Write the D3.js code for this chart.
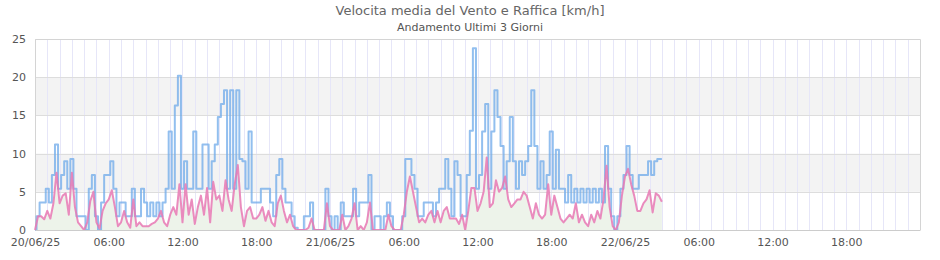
<!DOCTYPE html>
<html><head><meta charset="utf-8">
<script src="https://cdn.jsdelivr.net/npm/d3@7/dist/d3.min.js"></script>
<style>
html,body{margin:0;padding:0;background:#fff;}
svg{display:block;font-family:"DejaVu Sans",sans-serif;}
</style></head>
<body><svg id="c" width="940" height="260"></svg>
<script>
const chartTitle = "Velocita media del Vento e Raffica [km/h]";
const chartSubtitle = "Andamento Ultimi 3 Giorni";
const startTime = new Date(2025, 5, 20, 0, 0);
const endTime = new Date(2025, 5, 23, 0, 0);
const stepMinutes = 15;
// Raffica (gust), km/h, every 15 minutes from 20/06/25 00:00
const gust = [
0,1.8,3.6,3.6, 5.4,3.6,7.2,11.2, 5.4,7.2,9.0,5.4, 9.3,5.4,1.8,1.8,
1.8,0,5.4,7.2, 1.8,0,3.6,7.2, 7.2,9.0,5.4,1.8, 3.6,3.6,1.8,1.8,
5.4,1.8,1.8,5.4, 3.6,1.8,3.6,1.8, 3.6,1.8,3.6,5.4, 12.9,5.4,16.3,20.2,
5.4,9.0,5.4,5.4, 12.9,5.4,5.4,11.2, 11.2,5.4,9.0,11.2, 14.8,16.5,18.3,5.4,
18.3,5.4,18.3,9.3, 9.0,5.4,12.9,3.6, 3.6,3.6,5.4,5.4, 5.4,3.6,1.8,7.2,
9.3,5.4,3.6,3.6, 1.8,0.3,0,0, 1.8,1.8,3.6,0, 0,0,0,5.4,
1.8,0,1.8,0, 3.6,1.8,1.8,1.8, 5.4,1.8,3.6,3.6, 3.6,7.2,0,1.8,
1.8,0,1.8,3.6, 1.8,0,0,0, 1.8,9.3,9.3,7.2, 5.4,1.8,1.8,3.6,
3.6,3.6,1.8,3.6, 5.4,5.4,9.3,5.4, 1.8,9.0,7.2,1.8, 1.8,7.2,13.0,23.8,
5.4,7.2,12.9,16.5, 5.4,12.9,18.3,14.8, 11.0,5.4,9.0,14.8, 9.0,5.4,9.0,7.2,
9.0,11.0,18.3,11.0, 5.4,9.0,5.4,7.2, 12.9,5.4,10.5,5.4, 5.4,3.6,7.2,3.6,
5.4,3.6,5.4,3.6, 5.4,3.6,5.4,3.6, 5.4,3.6,11.0,5.4, 1.8,0,1.8,5.4,
7.2,11.0,7.2,5.4, 5.4,7.2,7.2,7.2, 9.0,7.2,9.0,9.3, 9.3
];
// Velocita media (mean wind), km/h
const mean = [
0,1.8,1.8,1.4, 2.5,1.5,3.5,7.5, 3.5,4.5,4.8,2.0, 7.5,3.0,1.0,0.5,
0,1.0,3.8,5.0, 1.0,0.2,2.5,3.5, 4.0,5.2,3.0,0.5, 1.0,2.5,1.0,0.3,
4.0,0.5,1.0,0.5, 0.5,0.5,0.8,1.0, 1.5,2.5,1.0,0.5, 2.0,3.0,2.0,6.0,
1.0,6.0,2.0,4.0, 0.8,3.0,4.5,2.0, 5.5,1.0,6.3,4.0, 4.5,2.5,6.5,4.0,
2.5,6.0,8.5,3.0, 0.5,2.5,3.0,1.5, 1.5,2.0,3.0,1.2, 2.5,1.0,0.5,3.5,
4.5,2.5,1.0,2.0, 0.5,0,0,0, 0,0.3,1.5,0, 0,0,0,3.5,
0.5,0,0,0, 2.0,0,0.5,1.5, 3.5,0,0.5,0, 1.0,3.6,0,0,
0,0,0,2.0, 0.5,0,0,0, 2.0,5.0,7.0,5.0, 3.0,1.0,1.5,1.0,
2.0,2.5,1.0,2.5, 1.0,2.5,3.0,1.5, 1.5,1.5,0.8,2.0, 0,2.5,5.5,5.5,
2.5,3.5,5.0,9.5, 3.0,3.5,6.5,5.0, 5.5,7.0,4.0,3.0, 3.5,4.0,4.0,5.0,
4.5,3.0,1.5,3.5, 2.0,1.5,2.0,6.0, 2.0,4.5,3.0,1.5, 1.0,1.5,2.0,1.5,
3.5,1.0,2.0,1.0, 0.5,2.0,1.0,2.5, 1.5,4.0,8.4,3.0, 0.5,0,1.0,4.5,
7.0,8.0,6.0,4.5, 2.5,2.5,3.5,4.0, 5.2,2.3,4.8,4.5, 3.7
];
const yTicks = [0, 5, 10, 15, 20, 25];
const bandRanges = [[5, 10], [15, 20]];
const xTickHours = [0, 6, 12, 18, 24, 30, 36, 42, 48, 54, 60, 66];
const xTickLabels = ["20/06/25","06:00","12:00","18:00","21/06/25","06:00","12:00","18:00","22/06/25","06:00","12:00","18:00"];

const svg = d3.select("#c");
const L = 35, R = 920, T = 39, B = 230;
const x = d3.scaleTime().domain([startTime, endTime]).range([L, R]);
const y = d3.scaleLinear().domain([0, 25]).range([B, T]);
const tAt = i => new Date(startTime.getTime() + i * stepMinutes * 60000);
const hAt = h => new Date(startTime.getTime() + h * 3600000);

// bands
svg.append("g").selectAll("rect").data(bandRanges).join("rect")
  .attr("x", L).attr("width", R - L)
  .attr("y", d => y(d[1])).attr("height", d => y(d[0]) - y(d[1]))
  .attr("fill", "#f3f3f3");

// hourly vertical grid
const hours = d3.timeHour.range(startTime, endTime);
svg.append("g").selectAll("line").data(hours.slice(1)).join("line")
  .attr("x1", d => Math.round(x(d)) + 0.5).attr("x2", d => Math.round(x(d)) + 0.5)
  .attr("y1", T).attr("y2", B)
  .attr("stroke", "#e6e6f8").attr("stroke-width", 1);

// horizontal grid
svg.append("g").selectAll("line").data(yTicks).join("line")
  .attr("x1", L).attr("x2", R)
  .attr("y1", d => Math.round(y(d)) + 0.5).attr("y2", d => Math.round(y(d)) + 0.5)
  .attr("stroke", "#dddddd");

// frame
svg.append("path")
  .attr("d", `M${L+0.5},${B}V${T+0.5}H${R+0.5}V${B}`)
  .attr("fill", "none").attr("stroke", "#d4d4d4");

const gData = gust.map((v, i) => ({t: tAt(i), v}));
const mData = mean.map((v, i) => ({t: tAt(i), v}));

// area under mean
svg.append("path").datum(mData)
  .attr("d", d3.area().x(d => x(d.t)).y0(y(0)).y1(d => y(d.v)))
  .attr("fill", "#edf3ea");

svg.append("path").datum(gData)
  .attr("d", d3.line().x(d => x(d.t)).y(d => y(d.v)).curve(d3.curveStep))
  .attr("fill", "none").attr("stroke", "#6eaaea").attr("stroke-opacity", 0.75)
  .attr("stroke-width", 2).attr("stroke-linejoin", "round");

svg.append("path").datum(mData)
  .attr("d", d3.line().x(d => x(d.t)).y(d => y(d.v)))
  .attr("fill", "none").attr("stroke", "#e878b4").attr("stroke-opacity", 0.85)
  .attr("stroke-width", 2).attr("stroke-linejoin", "round");

// axes
const yAxis = d3.axisLeft(y).tickValues(yTicks).tickSize(0).tickPadding(9);
const gy = svg.append("g").attr("transform", `translate(${L},0)`).call(yAxis);
gy.select(".domain").remove();
gy.selectAll("text").attr("font-size", 11).attr("fill", "#555").attr("font-family", "DejaVu Sans");

const xAxis = d3.axisBottom(x).tickValues(xTickHours.map(hAt))
  .tickFormat((d, i) => xTickLabels[i]).tickSize(0).tickPadding(8);
const gx = svg.append("g").attr("transform", `translate(0,${B})`).call(xAxis);
gx.select(".domain").attr("stroke", "#cccccc");
gx.selectAll("text").attr("font-size", 11).attr("fill", "#555").attr("font-family", "DejaVu Sans");

svg.append("text").attr("x", 470).attr("y", 15).attr("text-anchor", "middle")
  .attr("font-size", 13).attr("fill", "#666").text(chartTitle);
svg.append("text").attr("x", 470).attr("y", 31).attr("text-anchor", "middle")
  .attr("font-size", 11).attr("fill", "#555").text(chartSubtitle);
</script></body></html>
